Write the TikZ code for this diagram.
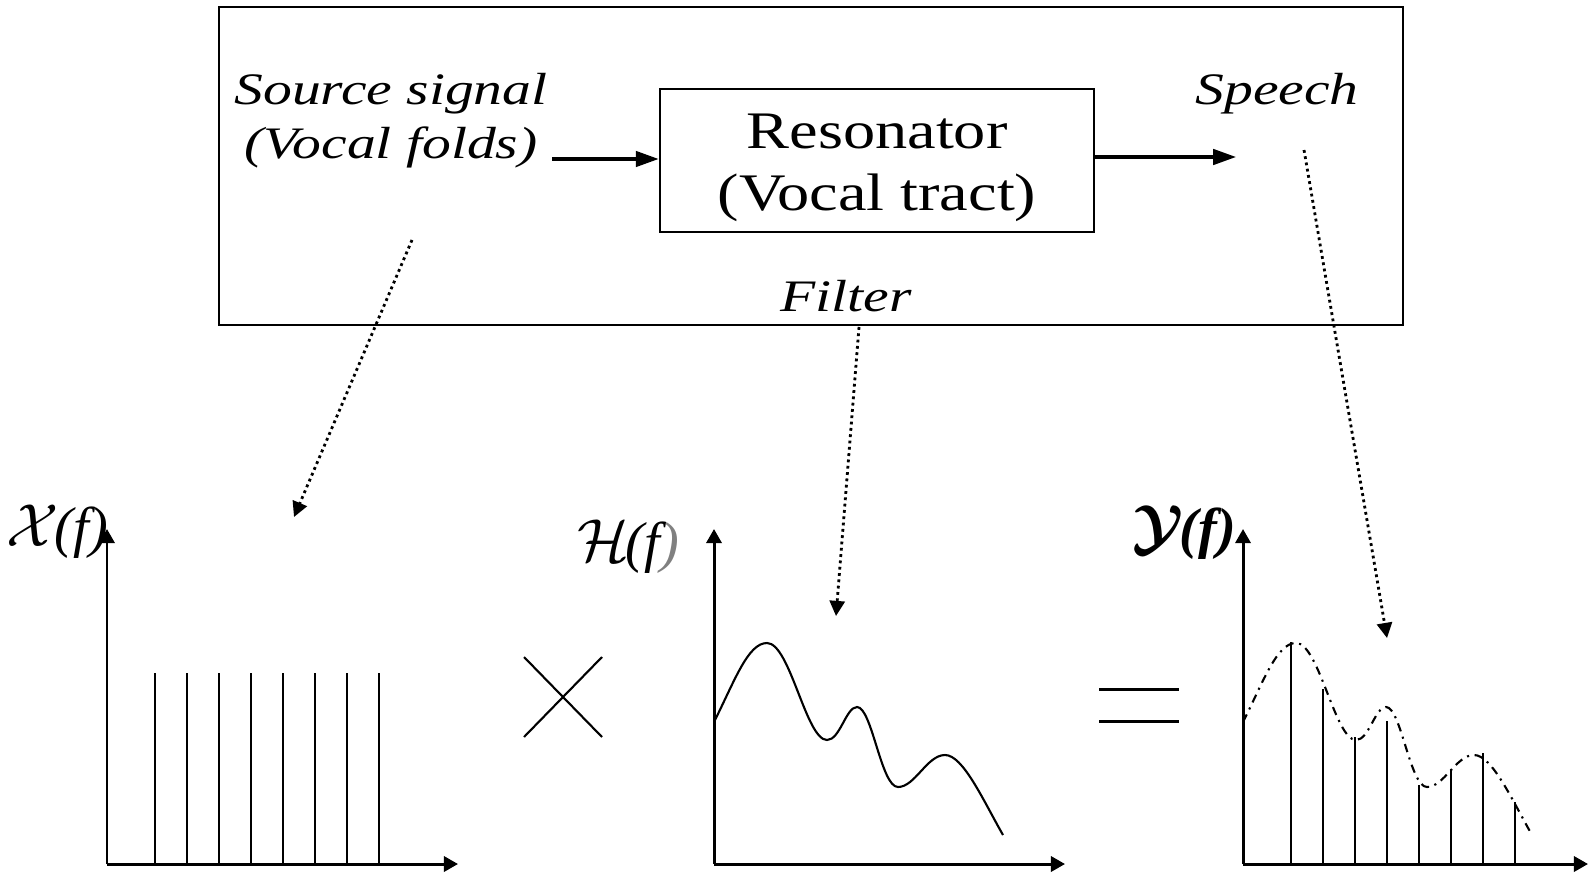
\documentclass[tikz,border=0pt]{standalone}
\usepackage{fontspec}
\setmainfont{Liberation Serif}[FakeStretch=1.22]
\newfontfamily\labelfont{Liberation Serif}[FakeStretch=1.28]
\newfontfamily\plainserif{Liberation Serif}
\usetikzlibrary{arrows.meta}

\tikzset{
  lbl/.style={font=\fontsize{12.8}{15.4}\selectfont\labelfont\itshape, align=center, inner sep=1pt},
  flow/.style={line width=0.9pt, -{Triangle[length=6.5pt, width=4.4pt]}},
  axis/.style={line width=0.85pt, -{Triangle[length=4pt, width=4.3pt]}},
  hint/.style={densely dotted, line width=0.8pt, -{Triangle[length=4.3pt, width=4.3pt]}},
  stem/.style={line width=0.7pt},
  fn/.style={font=\fontsize{16}{18}\selectfont\plainserif\itshape, inner sep=0pt}
}

% spectral envelope, drawn at the H(f) plot
\newcommand{\envelope}[1]{%
  \draw[line width=0.6pt, #1] (714,722)
    .. controls (735,680) and (748,643) .. (767,643)
    .. controls (790,643) and (806,740) .. (827,740)
    .. controls (840,740) and (846,707) .. (857,707)
    .. controls (872,707) and (881,787) .. (898,787)
    .. controls (915,787) and (927,755) .. (945,755)
    .. controls (963,755) and (983,800) .. (1003,835);}

\begin{document}
\begin{tikzpicture}[x=0.01cm, y=-0.01cm]
  \useasboundingbox (0,0) rectangle (1589,873);

  % Source-filter block
  \draw[line width=0.6pt] (219,7) rectangle (1403,325);
  \node[draw, line width=0.7pt, minimum width=4.34cm, minimum height=1.43cm, inner ysep=0pt,
        font=\fontsize{15}{17.4}\selectfont, align=center] (res) at (877,160.5)
        {\rule{0pt}{14pt}Resonator\\(Vocal tract)};
  \node[lbl] (src) at (391,121) {Source signal\\(Vocal folds)};
  \node[lbl] (spc) at (1277,94) {Speech};
  \node[lbl] (flt) at (846,296) {Filter};
  \coordinate (spcin) at (1236,157);

  \draw[flow] (552,159) -- (res.west |- 0,159);
  \draw[flow] (res.east |- spcin) -- (spcin);

  % dotted hints down to the spectra
  \coordinate (h1a) at (412,240);
  \coordinate (h1b) at (294,517);
  \coordinate (h2a) at (859,327);
  \coordinate (h2b) at (836,616);
  \coordinate (h3a) at (1304,150);
  \coordinate (h3b) at (1387,638);
  \draw[hint] (h1a) -- (h1b);
  \draw[hint] (h2a) -- (h2b);
  \draw[hint] (h3a) -- (h3b);

  % X(f): harmonics of the source
  \coordinate (o1) at (107,864);
  \draw[axis] (o1) -- (107,529);
  \draw[axis] (o1) -- (458,864);
  \foreach \k in {0,...,7}
    \draw[stem] ({155+32*\k},864) -- ({155+32*\k},673);
  \node[fn] (xf) at (57,532) {$\mathcal{X}$\kern-1pt(f)};

  % times sign
  \draw[line width=0.6pt] (524,657) -- (602,737);
  \draw[line width=0.6pt] (524,737) -- (602,657);

  % H(f): filter response
  \coordinate (o2) at (714,864);
  \draw[axis] (o2) -- (714,529);
  \draw[axis] (o2) -- (1065,864);
  \envelope{}
  \node[fn] (hf) at (628,547) {$\mathcal{H}$\kern-1pt(f\textcolor{gray}{)}};

  % equals sign
  \draw[line width=0.85pt] (1099,689) -- (1179,689);
  \draw[line width=0.85pt] (1099,721) -- (1179,721);

  % Y(f): speech spectrum
  \coordinate (o3) at (1243,864);
  \draw[axis] (o3) -- (1243,529);
  \draw[axis] (o3) -- (1588,864);
  \foreach \k/\h in {0/642,1/689,2/737,3/721,4/785,5/769,6/753,7/802}
    \draw[stem] ({1291+32*\k},864) -- ({1291+32*\k},\h);
  \envelope{shift={(529,0)}, dash pattern=on 2.4pt off 1.6pt on 0.6pt off 1.6pt}
  \node[fn] (yf) at (1184,533) {{\boldmath$\mathcal{Y}$}\kern-1pt\bfseries(f)};
\end{tikzpicture}
\end{document}
